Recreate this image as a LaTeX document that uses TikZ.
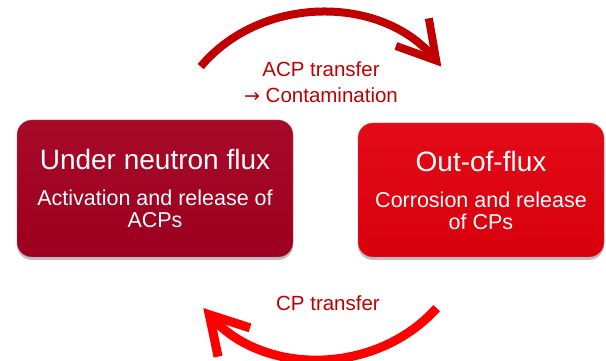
\documentclass[tikz,border=0pt]{standalone}
\usepackage{fontspec}
\setmainfont{Liberation Sans}
\newfontfamily\arrowfont{DejaVu Sans}
\usetikzlibrary{arrows.meta,shadows}
\definecolor{darkred}{HTML}{C00000}
\definecolor{fluxred}{HTML}{A30020}
\definecolor{outred}{HTML}{E2000E}
\definecolor{brightred}{HTML}{FF0000}
\def\Barb{Straight Barb[length=37pt,width=43pt]}

\begin{document}
\begin{tikzpicture}[x=1pt,y=1pt,% one unit = one pixel of the original
		every node/.style={
			align=center,	% use this so that the "\\" for line break works
			inner sep=0pt
		},
		box/.style={rectangle,rounded corners=15pt,text=white,
			font=\fontsize{21.5}{22}\selectfont,
			drop shadow={shadow xshift=0pt,shadow yshift=-3pt,fill=black,opacity=0.25}},
		lbl/.style={text=darkred,font=\fontsize{20.5}{26}\selectfont},
		every edge/.style={draw,line width=8pt}
	]
	\useasboundingbox (0,0) rectangle (606,361);
	\node[box,top color=fluxred!96!white,bottom color=fluxred!96!black,draw=fluxred!70!white,
		minimum width=276pt,minimum height=137pt](B1) at (155,172.5)
		{{\fontsize{28}{28}\selectfont Under neutron flux}\\[14pt]Activation and release of\\ACPs};
	\node[box,top color=outred!96!white,bottom color=outred!96!black,draw=outred!70!white,
		minimum width=246pt,minimum height=134pt](B2) at (481,171)
		{{\fontsize{28}{28}\selectfont Out-of-flux}\\[14pt]Corrosion and release\\of CPs};
	\node[lbl](T1) at (321,279){ACP transfer\\{\arrowfont\fontsize{19}{26}\selectfont →} Contamination};
	\node[lbl,anchor=base](T2) at (328,50){CP transfer};
	% ends of the two curved arrows
	\coordinate (A1) at (200.7,294.4);
	\coordinate (A2) at (441.3,294.4);
	\coordinate (A3) at (436.7,52.9);
	\coordinate (A4) at (203.3,52.9);
	\path
	(A1) edge [bend left=50,draw=darkred,-{\Barb}] (A2)
	(A3) edge [bend left=48,draw=brightred,line width=9pt,-{\Barb}] (A4)
	;
\end{tikzpicture}
\end{document}
